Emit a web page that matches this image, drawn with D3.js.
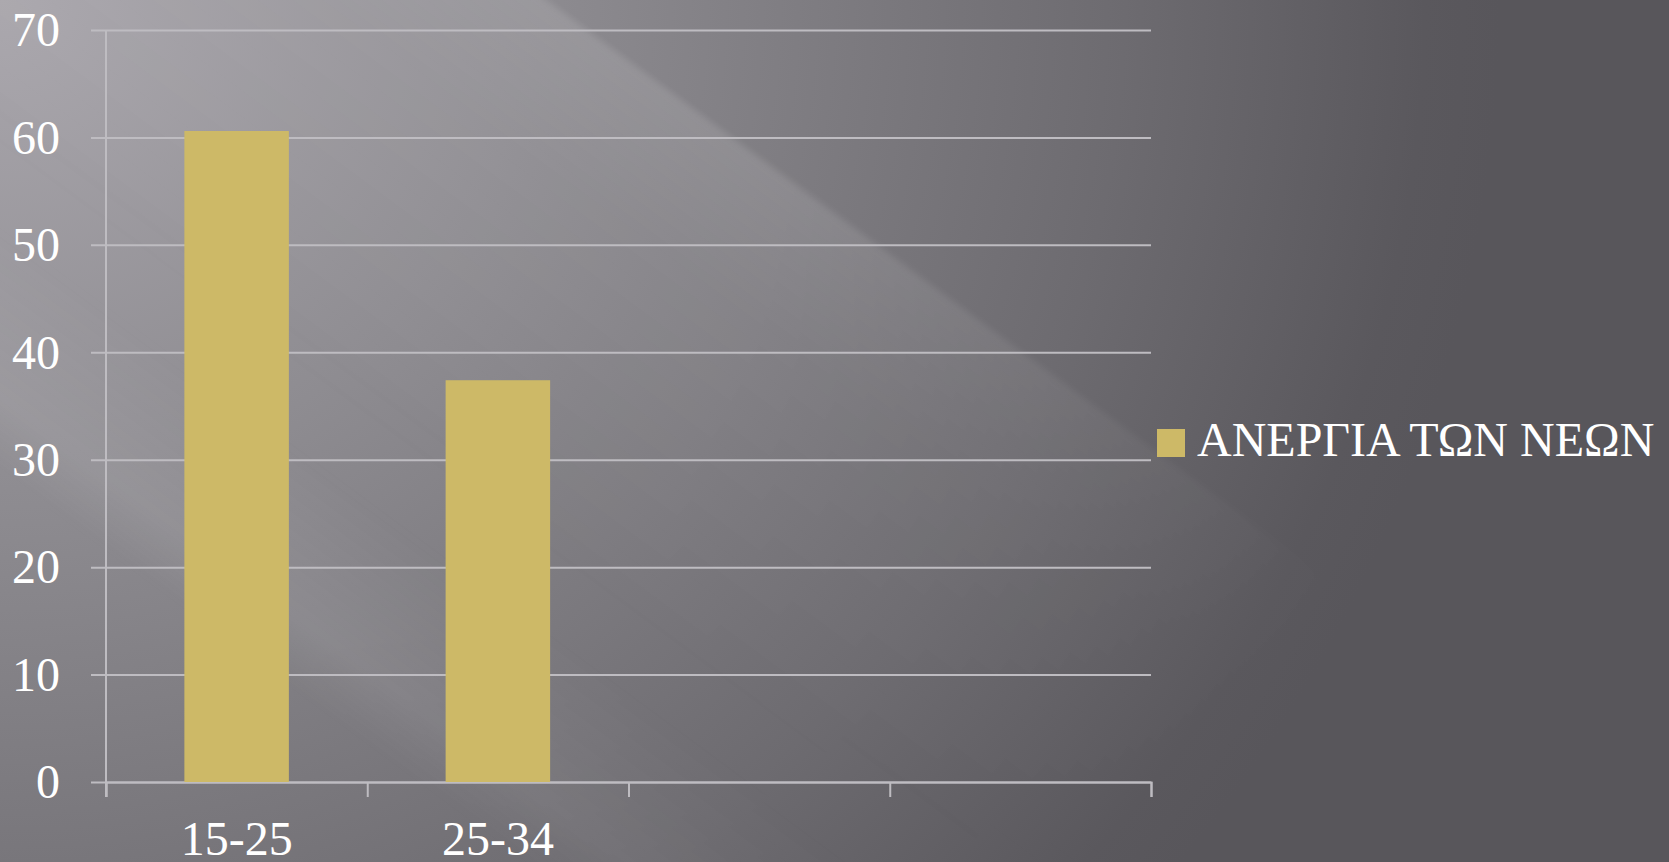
<!DOCTYPE html>
<html lang="el">

<head>
  <meta charset="UTF-8">
  <script type="text/javascript" src="https://d3js.org/d3.v7.min.js"></script>
  <title>ΑΝΕΡΓΙΑ ΤΩΝ ΝΕΩΝ</title>
  <style>
    body { margin: 0; overflow: hidden; }
    text { font-family: "Liberation Serif", "DejaVu Serif", serif; fill: #ffffff; }
  </style>
</head>

<body>
  <svg width="1669" height="862"></svg>
</body>
<script>
  // data
  const categories = ["15-25", "25-34", "c3", "c4"];
  const tickLabels = ["15-25", "25-34", "", ""];
  const values = [60.6, 37.4, null, null];
  const seriesName = "ΑΝΕΡΓΙΑ ΤΩΝ ΝΕΩΝ";
  const yTicks = [0, 10, 20, 30, 40, 50, 60, 70];

  const svg = d3.select("svg");
  const width = +svg.attr("width");
  const height = +svg.attr("height");

  const margin = { left: 106, top: 30, right: 518, bottom: 80 };
  const innerWidth = width - margin.left - margin.right;
  const innerHeight = height - margin.top - margin.bottom;

  const gridColor = "#bebcc1";
  const barColor = "#cdb967";

  /**
   * background (dark slide with light diagonal streaks)
   */
  const defs = svg.append("defs");

  const bg = defs.append("radialGradient")
    .attr("id", "bg")
    .attr("gradientUnits", "userSpaceOnUse")
    .attr("cx", 0).attr("cy", 0).attr("r", 1)
    .attr("gradientTransform", "scale(1500,1400)");
  bg.append("stop").attr("offset", 0).attr("stop-color", "#aaa7ad");
  bg.append("stop").attr("offset", 0.35).attr("stop-color", "#8e8c91");
  bg.append("stop").attr("offset", 0.75).attr("stop-color", "#6d6b70");
  bg.append("stop").attr("offset", 0.95).attr("stop-color", "#5a585d");
  bg.append("stop").attr("offset", 1).attr("stop-color", "#58565b");

  const streak = defs.append("linearGradient")
    .attr("id", "streak")
    .attr("x1", 0).attr("y1", 0).attr("x2", 0).attr("y2", 1);
  streak.append("stop").attr("offset", 0).attr("stop-color", "#fff").attr("stop-opacity", 0.12);
  streak.append("stop").attr("offset", 0.3).attr("stop-color", "#fff").attr("stop-opacity", 0.06);
  streak.append("stop").attr("offset", 1).attr("stop-color", "#fff").attr("stop-opacity", 0);

  const soft = defs.append("linearGradient")
    .attr("id", "softStreak")
    .attr("x1", 0).attr("y1", 0).attr("x2", 0).attr("y2", 1);
  soft.append("stop").attr("offset", 0).attr("stop-color", "#fff").attr("stop-opacity", 0);
  soft.append("stop").attr("offset", 0.7).attr("stop-color", "#fff").attr("stop-opacity", 0.08);
  soft.append("stop").attr("offset", 1).attr("stop-color", "#fff").attr("stop-opacity", 0);

  // fade the streaks out towards the lower right
  const fade = defs.append("radialGradient")
    .attr("id", "fade")
    .attr("gradientUnits", "userSpaceOnUse")
    .attr("cx", 250).attr("cy", 100).attr("r", 1200);
  fade.append("stop").attr("offset", 0).attr("stop-color", "#fff");
  fade.append("stop").attr("offset", 0.45).attr("stop-color", "#fff");
  fade.append("stop").attr("offset", 1).attr("stop-color", "#000");

  defs.append("mask").attr("id", "fadeMask")
    .append("rect")
    .attr("width", width).attr("height", height)
    .attr("fill", "url(#fade)");

  defs.append("filter").attr("id", "blur")
    .append("feGaussianBlur").attr("stdDeviation", 3);

  svg.append("rect")
    .attr("width", width)
    .attr("height", height)
    .attr("fill", "url(#bg)");

  const streaks = svg.append("g")
    .attr("mask", "url(#fadeMask)")
    .append("g")
    .attr("filter", "url(#blur)")
    .attr("transform", "rotate(36.5)");

  streaks.append("rect")
    .attr("x", -2000).attr("y", -325)
    .attr("width", 5000).attr("height", 450)
    .attr("fill", "url(#streak)");

  streaks.append("rect")
    .attr("x", -2000).attr("y", 180)
    .attr("width", 5000).attr("height", 200)
    .attr("fill", "url(#softStreak)");

  const chart = svg.append("g")
    .attr("transform", "translate(" + margin.left + "," + margin.top + ")");

  /**
   * scales
   */
  const xScale = d3.scaleBand()
    .domain(categories)
    .range([0, innerWidth])
    .paddingInner(0.6)
    .paddingOuter(0.3);

  const xEdges = d3.scaleLinear()
    .domain([0, categories.length])
    .range([0, innerWidth]);

  const yScale = d3.scaleLinear()
    .domain([0, 70])
    .range([innerHeight, 0]);

  /**
   * y axis + gridlines
   */
  const yAxis = chart.append("g")
    .attr("class", "axis--y")
    .call(d3.axisLeft(yScale).tickValues(yTicks).tickSize(-innerWidth).tickPadding(46));

  yAxis.select(".domain").remove();
  yAxis.selectAll(".tick line")
    .attr("x1", -15)
    .attr("stroke", gridColor)
    .attr("stroke-width", 2);
  yAxis.selectAll(".tick text")
    .attr("font-size", "48px")
    .attr("dy", "0.33em");

  chart.append("line")
    .attr("x1", 0).attr("x2", 0)
    .attr("y1", 0).attr("y2", innerHeight + 15)
    .attr("stroke", gridColor)
    .attr("stroke-width", 2);

  /**
   * x axis
   */
  const xAxis = chart.append("g")
    .attr("class", "axis--x")
    .attr("transform", "translate(0," + innerHeight + ")")
    .call(d3.axisBottom(xEdges).ticks(categories.length).tickFormat("").tickSize(15).tickSizeOuter(15));

  xAxis.select(".domain").attr("stroke", gridColor).attr("stroke-width", 2);
  xAxis.selectAll(".tick line").attr("stroke", gridColor).attr("stroke-width", 2);

  const xLabels = chart.append("g")
    .attr("transform", "translate(0," + innerHeight + ")")
    .call(d3.axisBottom(xScale).tickSize(0).tickPadding(0).tickFormat((d, i) => tickLabels[i]));

  xLabels.select(".domain").remove();
  xLabels.selectAll(".tick text")
    .attr("font-size", "48px")
    .attr("dy", null)
    .attr("y", 73);

  /**
   * bars
   */
  chart.append("g")
    .attr("class", "bars")
    .selectAll("rect")
    .data(values.map((v, i) => ({ cat: categories[i], v })).filter(d => d.v != null))
    .join("rect")
    .attr("x", d => xScale(d.cat))
    .attr("y", d => yScale(d.v))
    .attr("width", xScale.bandwidth())
    .attr("height", d => innerHeight - yScale(d.v))
    .attr("fill", barColor);

  /**
   * legend
   */
  const legend = svg.append("g")
    .attr("transform", "translate(1157,429)");

  legend.append("rect")
    .attr("width", 28)
    .attr("height", 28)
    .attr("fill", barColor);

  legend.append("text")
    .attr("x", 40)
    .attr("y", 27)
    .attr("font-size", "48px")
    .text(seriesName);
</script>

</html>
